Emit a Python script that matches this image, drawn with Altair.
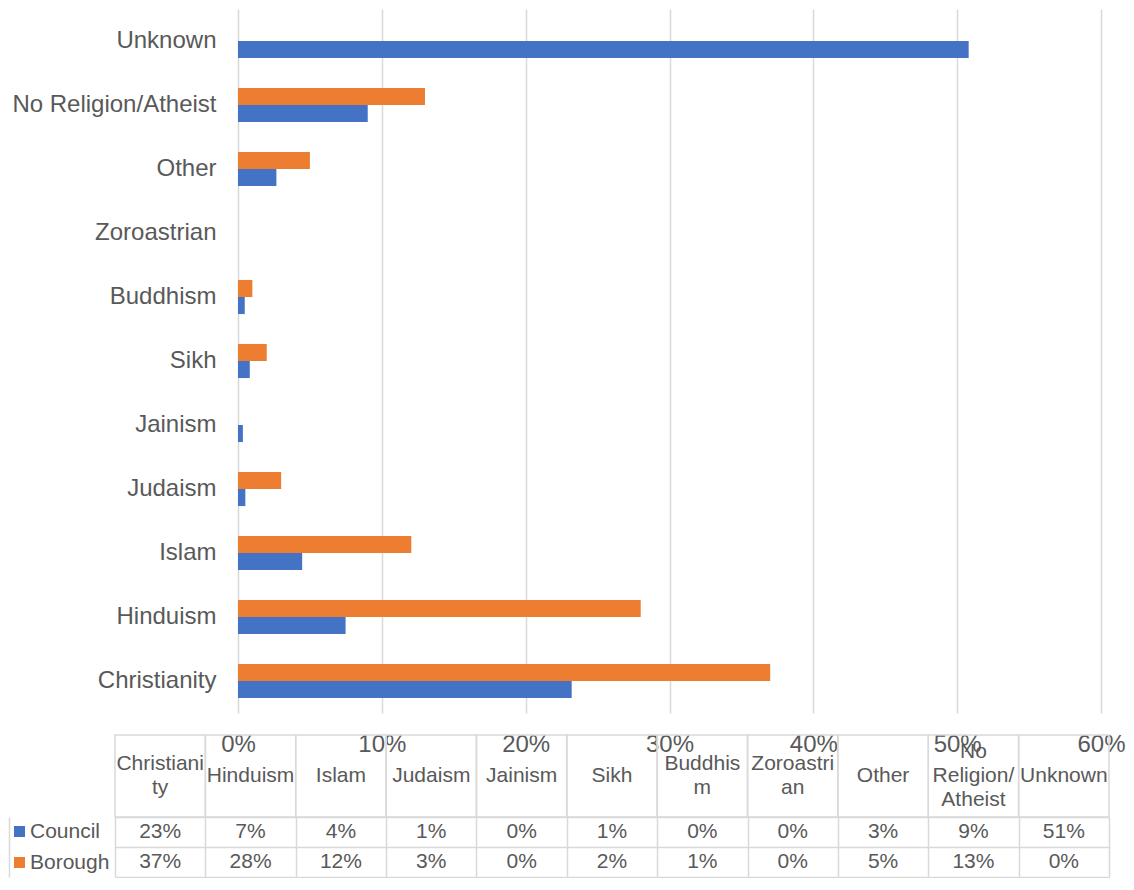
import altair as alt
import pandas as pd

# ---- data ----
categories = ["Christianity", "Hinduism", "Islam", "Judaism", "Jainism", "Sikh",
              "Buddhism", "Zoroastrian", "Other", "No Religion/Atheist", "Unknown"]
header_labels = ["Christiani\nty", "Hinduism", "Islam", "Judaism", "Jainism", "Sikh",
                 "Buddhis\nm", "Zoroastri\nan", "Other", "No\nReligion/\nAtheist", "Unknown"]
council = [0.232, 0.0748, 0.0446, 0.0051, 0.0034, 0.0082, 0.0047, 0.0, 0.0267, 0.0902, 0.508]
borough = [0.370, 0.280, 0.1205, 0.030, 0.0, 0.020, 0.010, 0.0, 0.050, 0.130, 0.0]
series_names = ["Council", "Borough"]
series_colors = ["#4472C4", "#ED7D31"]
x_ticks = [0, 0.1, 0.2, 0.3, 0.4, 0.5, 0.6]

rows = []
for i, c in enumerate(categories):
    rows.append({"category": c, "series": "Council", "value": council[i]})
    rows.append({"category": c, "series": "Borough", "value": borough[i]})
df = pd.DataFrame(rows)
hdr = pd.DataFrame({"category": categories, "header": header_labels,
                    "nlines": [h.count("\n") + 1 for h in header_labels]})

GRID = "#D9D9D9"
TXT = "#595959"
W = 1100
SERIES_COL = 106
ZERO_X = 229
LINE_H = 24

color_scale = alt.Scale(domain=series_names, range=series_colors)

# ---- bar chart ----
bars = alt.Chart(df).mark_bar().encode(
    y=alt.Y("category:N",
            scale=alt.Scale(domain=categories[::-1], paddingInner=0.467, paddingOuter=0.2335),
            axis=alt.Axis(title=None, offset=-ZERO_X, labelPadding=22, ticks=False, domain=False,
                          labelFontSize=24, labelColor=TXT, labelLimit=400)),
    x=alt.X("value:Q",
            scale=alt.Scale(domain=[0, 0.6], range=[ZERO_X, 1092], nice=False),
            axis=alt.Axis(title=None, values=x_ticks, format=".0%", grid=True, gridColor=GRID,
                          gridWidth=1.5, ticks=False, domain=False, labelPadding=19,
                          labelFontSize=24, labelColor=TXT, labelFlush=False)),
    yOffset=alt.YOffset("series:N",
                        scale=alt.Scale(domain=["Borough", "Council"], paddingInner=0, paddingOuter=0)),
    color=alt.Color("series:N", scale=color_scale, legend=None),
).properties(width=W, height=704)

# ---- data table: header row ----
xband = alt.Scale(domain=categories, range=[SERIES_COL, W], paddingInner=0, paddingOuter=0)
header_base = alt.Chart(hdr).encode(x=alt.X("category:N", scale=xband, axis=None))
header_layers = [header_base.mark_rect(fillOpacity=0, stroke=GRID, strokeWidth=1.5)]
for n in (1, 2, 3):
    header_layers.append(
        header_base.transform_filter(f"datum.nlines == {n}")
        .mark_text(fontSize=21, color=TXT, lineBreak="\n", lineHeight=LINE_H,
                   dy=-(n - 1) * LINE_H / 2)
        .encode(text="header:N")
    )
header = alt.layer(*header_layers).properties(width=W, height=82)

# ---- data table: value rows ----
data_base = alt.Chart(df).encode(
    x=alt.X("category:N", scale=xband,
            axis=alt.Axis(title=None, labels=False, ticks=False, domain=False, grid=True,
                          gridColor=GRID, gridWidth=1.5, tickBand="extent")),
    y=alt.Y("series:N", scale=alt.Scale(domain=series_names, paddingInner=0, paddingOuter=0),
            axis=alt.Axis(title=None, labels=False, ticks=False, domain=True, domainColor=GRID,
                          domainWidth=1.5, grid=True, gridColor=GRID, gridWidth=1.5,
                          tickBand="extent")),
)
data_tbl = alt.layer(
    data_base.mark_square(opacity=0).encode(
        color=alt.Color("series:N", scale=color_scale,
                        legend=alt.Legend(orient="none", legendX=0, legendY=4, title=None,
                                          symbolType="square", symbolSize=121, symbolOffset=0,
                                          symbolStrokeWidth=0, symbolOpacity=1,
                                          labelFontSize=21, labelColor=TXT, labelOffset=0,
                                          rowPadding=9, padding=0, direction="vertical"))),
    data_base.mark_text(fontSize=21, color=TXT).encode(text=alt.Text("value:Q", format=".0%")),
).properties(width=W, height=60)

table = alt.vconcat(header, data_tbl, spacing=0, bounds="flush").resolve_scale(
    x="independent", y="independent", color="independent")

chart = alt.vconcat(bars, table, spacing=22, bounds="flush").resolve_scale(
    x="independent", y="independent", color="independent"
).properties(padding=0).configure(font="Liberation Sans").configure_view(stroke="transparent")

chart.save("out.html", embed_options={"renderer": "svg", "actions": False})
